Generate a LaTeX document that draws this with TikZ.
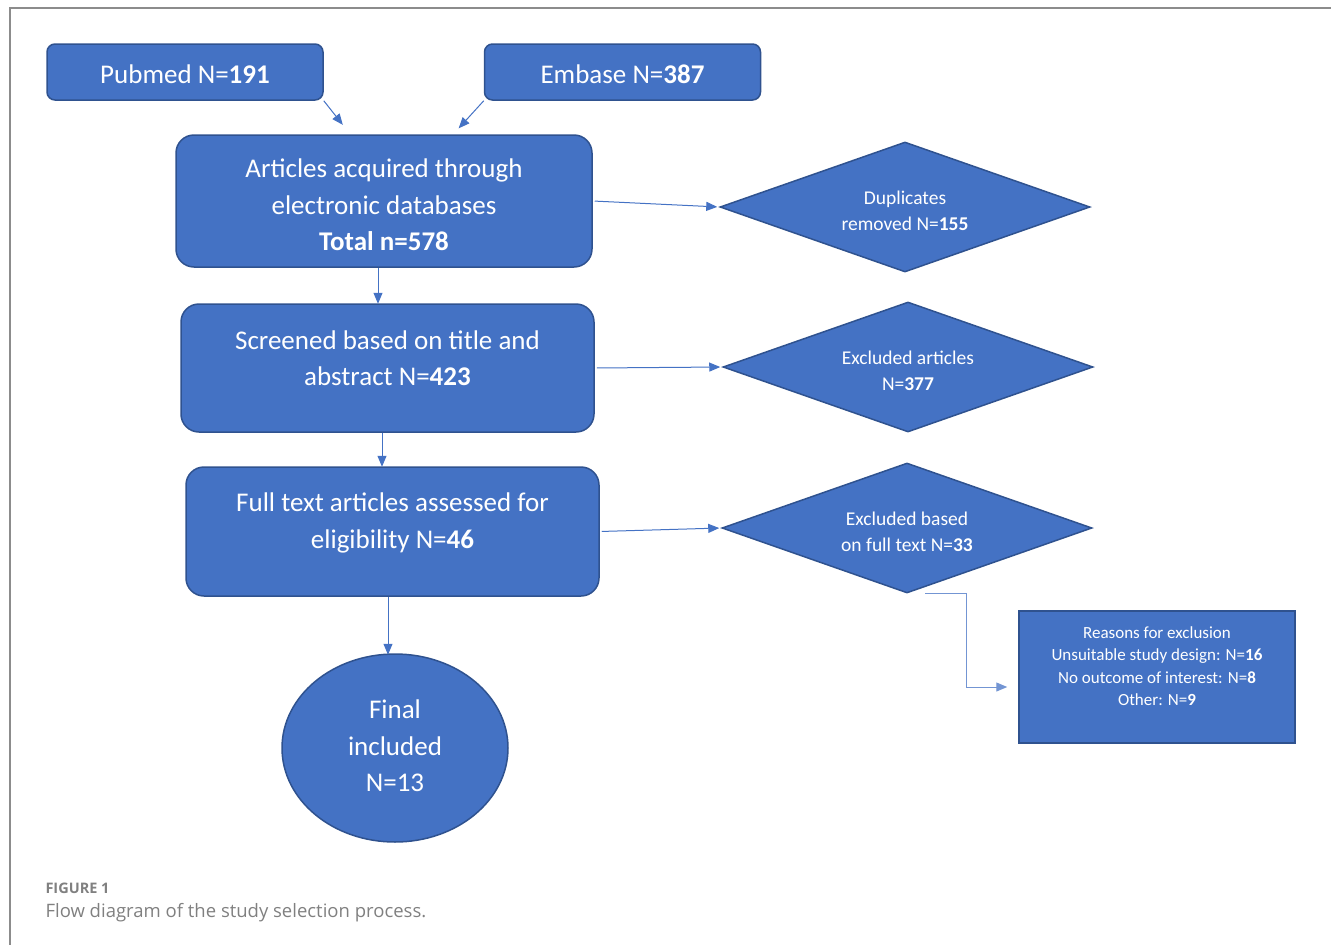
\documentclass[tikz,border=0pt]{standalone}
\usepackage{fontspec}
\setmainfont{Carlito}
\newfontfamily\capfont{Open Sans}
\usetikzlibrary{shapes.geometric,arrows.meta,calc}
\definecolor{boxblue}{HTML}{4472C4}
\definecolor{boxedge}{HTML}{2F528F}
\definecolor{capgray}{HTML}{808080}
\definecolor{framegray}{HTML}{8C8C8C}

\tikzset{
  dbbox/.style={draw=boxedge,line width=1.5pt,fill=boxblue,text=white,rounded corners=8pt,
    inner sep=0pt,minimum width=276pt,minimum height=56pt,font=\fontsize{27}{30}\selectfont},
  stagebox/.style={draw=boxedge,line width=1.5pt,fill=boxblue,text=white,rounded corners=18pt,
    inner sep=0pt,align=center,font=\fontsize{27}{36}\selectfont},
  stagetext/.style={text=white,align=center,font=\fontsize{27}{36.5}\selectfont},
  decision/.style={diamond,aspect=2.85,draw=boxedge,line width=1.5pt,fill=boxblue,text=white,
    inner sep=0pt,minimum width=370pt,minimum height=130pt,align=center,font=\fontsize{19.5}{26}\selectfont},
  dtext/.style={text=white,align=center,font=\fontsize{19.5}{26}\selectfont,yshift=-4pt},
  reasonbox/.style={draw=boxedge,line width=1.5pt,fill=boxblue,inner sep=0pt,
    minimum width=276pt,minimum height=132pt},
  reasontext/.style={text=white,align=center,font=\fontsize{17}{22.5}\selectfont},
  flow/.style={draw=boxblue,line width=1pt,-{Triangle[length=11pt,width=9pt]}},
}

\begin{document}
\begin{tikzpicture}[x=1pt,y=-1pt]
\useasboundingbox (0,0) rectangle (1331,945);
% page frame
\draw[framegray,line width=1.3pt] (10,945) -- (10,8) -- (1331,8);

% sources
\node[dbbox,label={[text=white,font=\fontsize{27}{30}\selectfont,yshift=-2pt]center:{Pubmed N=\textbf{191}}}] (pubmed) at (185,72) {};
\node[dbbox,label={[text=white,font=\fontsize{27}{30}\selectfont,yshift=-2pt]center:{Embase N=\textbf{387}}}] (embase) at (622.5,72) {};

% main stages
\node[stagebox,minimum width=416pt,minimum height=132pt,
  label={[stagetext,yshift=-4pt]center:{Articles acquired through\\electronic databases\\\textbf{Total n=578}}}]
  (acquired) at (384,201) {};
\node[stagebox,minimum width=413pt,minimum height=128pt,
  label={[stagetext,yshift=10pt]center:{Screened based on title and\\abstract N=\textbf{423}}}]
  (screened) at (387.5,368) {};
\node[stagebox,minimum width=413pt,minimum height=129pt,
  label={[stagetext,yshift=8.5pt]center:{Full text articles assessed for\\eligibility N=\textbf{46}}}]
  (fulltext) at (392.5,531.5) {};
\node[ellipse,draw=boxedge,line width=1.5pt,fill=boxblue,inner sep=0pt,
  minimum width=226pt,minimum height=188pt,
  label={[stagetext,yshift=2pt]center:{Final\\included\\N=13}}]
  (final) at (395,748) {};

% exclusions
\node[decision,label={[dtext]center:{Duplicates\\removed N=\textbf{155}}}] (dupl) at (905,207) {};
\node[decision,label={[dtext]center:{Excluded articles\\N=\textbf{377}}}] (exclA) at (908,367) {};
\node[decision,label={[dtext]center:{Excluded based\\on full text N=\textbf{33}}}] (exclB) at (907,528) {};
\node[reasonbox,label={[reasontext,yshift=11pt]center:{Reasons for exclusion\\Unsuitable study design: N=\textbf{16}\\No outcome of interest: N=\textbf{8}\\Other: N=\textbf{9}}}]
  (reasons) at (1157,677) {};

% connectors
\draw[flow,shorten >=12pt] (pubmed.south east) -- ($(acquired.north west)+(175,0)$);
\draw[flow,shorten >=8pt] (embase.south west) -- ($(acquired.north west)+(278,0)$);
\draw[flow] ($(acquired.south)+(-6,0)$) -- ($(acquired.south)+(-6,36)$);
\draw[flow] ($(screened.south)+(-5.5,0)$) -- ($(screened.south)+(-5.5,34)$);
\draw[flow] ($(fulltext.south)+(-4.5,0)$) -- ($(fulltext.south)+(-4.5,58)$);
\draw[flow,shorten <=2pt,shorten >=2pt] (acquired.east) -- (dupl.west);
\draw[flow,shorten <=2pt,shorten >=2pt] (screened.east) -- (exclA.west);
\draw[flow,shorten <=2pt,shorten >=2pt] (fulltext.east) -- (exclB.west);
\draw[flow,draw=boxblue!75,shorten >=11pt] ($(exclB.south)+(18,0)$) -- ++(41,0) |- ($(reasons.west)+(0,10)$);

% caption
\node[anchor=west,text=capgray,font=\capfont\bfseries\fontsize{14.5}{16}\selectfont] (figlabel) at (42,888) {FIGURE 1};
\node[anchor=west,text=capgray,font=\capfont\fontsize{18.5}{22}\selectfont] (figcaption) at (42,913)
  {Flow diagram of the study selection process.};
\end{tikzpicture}
\end{document}
